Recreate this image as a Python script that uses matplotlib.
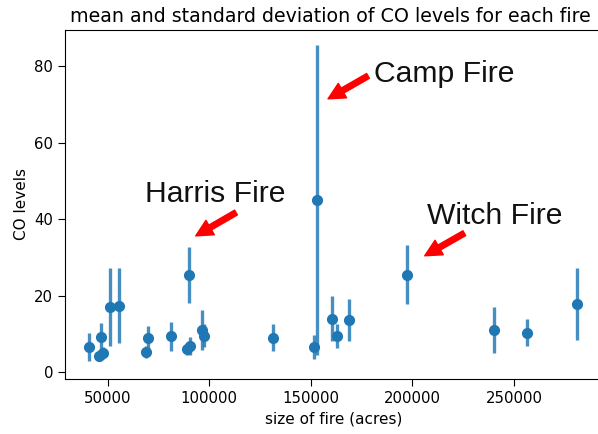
import matplotlib
matplotlib.use("Agg")
import matplotlib.pyplot as plt

# data
acres = [40940, 45860, 46850, 47540, 51130, 55710, 68850, 69990, 81160, 88890,
         90020, 90510, 96270, 97400, 131520, 151550, 152880, 160260, 162720,
         168930, 197480, 240150, 256550, 281160]
co_mean = [6.6, 4.4, 9.4, 5.1, 17.0, 17.5, 5.3, 9.1, 9.5, 6.1,
           25.5, 7.0, 11.1, 9.6, 9.1, 6.6, 45.1, 14.0, 9.6,
           13.8, 25.5, 11.1, 10.4, 17.9]
co_std = [3.7, 1.5, 3.6, 1.5, 10.2, 9.8, 1.5, 3.1, 3.8, 1.5,
          7.3, 2.3, 5.2, 3.0, 3.6, 3.2, 40.5, 5.9, 3.1,
          5.5, 7.7, 6.0, 3.6, 9.3]

labels = ["Camp Fire", "Harris Fire", "Witch Fire"]
label_pos = [(181090, 75.9), (68360, 44.6), (207030, 38.8)]
arrow_tail = [(178130, 77.5), (113150, 41.8), (225540, 36.4)]
arrow_tip = [(158440, 71.5), (93320, 35.7), (206040, 30.5)]

fig = plt.figure(figsize=(5.98, 4.34), dpi=100)
ax = fig.add_axes([65 / 598, 55 / 434, (601.5 - 65) / 598, (379 - 30) / 434])

blue = "#1f77b4"
ax.errorbar(acres, co_mean, yerr=co_std, fmt="o", color=blue, markersize=7,
            ecolor=(0.122, 0.467, 0.706, 0.82), elinewidth=2.4)

ax.set_xlim(28980, 293070)
ax.set_ylim(-1.7, 89.5)
ax.set_xticks([50000, 100000, 150000, 200000, 250000])
ax.set_yticks([0, 20, 40, 60, 80])
ax.tick_params(labelsize=10.7, length=5)

ax.set_title("mean and standard deviation of CO levels for each fire",
             fontsize=13.7, x=0.495)
ax.set_xlabel("size of fire (acres)", fontsize=11)
ax.set_ylabel("CO levels", fontsize=11)

for lab, pos, tail, tip in zip(labels, label_pos, arrow_tail, arrow_tip):
    ax.text(pos[0], pos[1], lab, fontsize=21.7, family="Liberation Sans",
            va="baseline", ha="left", color="#111111")
    ax.annotate("", xy=tip, xytext=tail,
                arrowprops=dict(color="red", width=4, headwidth=12,
                                headlength=12, shrink=0.0))

fig.savefig("out.png", dpi=100)
